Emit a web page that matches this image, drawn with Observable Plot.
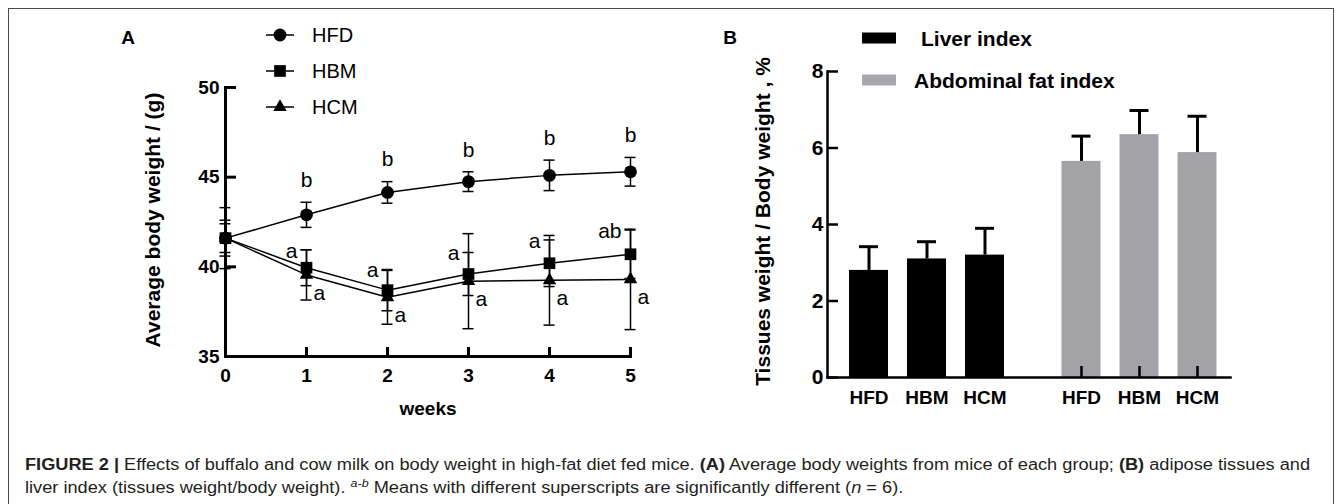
<!DOCTYPE html>
<html><head><meta charset="utf-8">
<script src="https://cdn.jsdelivr.net/npm/d3@7"></script>
<script src="https://cdn.jsdelivr.net/npm/@observablehq/plot@0.6"></script>
<style>
html,body{margin:0;padding:0;background:#fff;}
body{width:1344px;height:504px;overflow:hidden;position:relative;font-family:Arial,"Liberation Sans",Helvetica,sans-serif;}
#border{position:absolute;left:8px;top:8px;width:1326px;height:560px;border:1.5px solid #4a4a4a;box-sizing:border-box;}
#A,#B{position:absolute;top:0;}
#A{left:0px;}
#B{left:680px;}
#overlay{position:absolute;left:0;top:0;}
#cap{position:absolute;left:25px;top:453px;font-size:16px;line-height:23px;color:#231f20;white-space:nowrap;transform-origin:0 0;font-family:"Liberation Sans Narrow","Arial Narrow","Liberation Sans",Arial,sans-serif;}
#cap sup{font-size:11px;line-height:0;}
</style></head>
<body>
<div id="border"></div>
<div id="A"></div>
<div id="B"></div>
<svg id="overlay" width="1344" height="504"></svg>
<div id="cap"><span id="line1"><b>FIGURE 2 |</b> Effects of buffalo and cow milk on body weight in high-fat diet fed mice. <b>(A)</b> Average body weights from mice of each group; <b>(B)</b> adipose tissues and</span><br>liver index (tissues weight/body weight). <sup><i>a-b</i></sup> Means with different superscripts are significantly different (<i>n</i> = 6).</div>
<script>
// ---------- Panel A data ----------
const weeks = [0, 1, 2, 3, 4, 5];
const groups = ["HFD", "HBM", "HCM"];
const hfdMean = [41.6, 42.9, 44.15, 44.75, 45.1, 45.3];
const hfdSD   = [1.0, 0.7, 0.6, 0.55, 0.85, 0.8];
const hbmMean = [41.6, 39.95, 38.7, 39.6, 40.2, 40.7];
const hbmSD   = [0.8, 1.0, 1.15, 1.2, 1.3, 1.35];
const hcmMean = [41.6, 39.55, 38.3, 39.2, 39.25, 39.3];
const hcmSD   = [1.7, 1.4, 1.5, 2.65, 2.5, 2.8];
const hfdLetters = ["", "b", "b", "b", "b", "b"];
const hbmLetters = ["", "a", "a", "a", "a", "ab"];
const hcmLetters = ["", "a", "a", "a", "a", "a"];
const yTicksA = [35, 40, 45, 50];
const xTicksA = [0, 1, 2, 3, 4, 5];
const xLabelA = "weeks";
const yLabelA = "Average body weight / (g)";

// ---------- Panel B data ----------
const tissues = ["Liver index", "Abdominal fat index"];
const liverMean = [2.8, 3.1, 3.2];
const liverSD   = [0.62, 0.45, 0.7];
const fatMean   = [5.65, 6.35, 5.88];
const fatSD     = [0.66, 0.63, 0.95];
const yTicksB = [0, 2, 4, 6, 8];
const yLabelB = "Tissues weight / Body weight , %";

const FONT = "Arial, 'Liberation Sans', Helvetica, sans-serif";
const GRAY = "#a3a3a7";

// ---------- Panel A ----------
const seriesA = [
  {name: "HFD", mean: hfdMean, sd: hfdSD, letters: hfdLetters, symbol: "circle", r: 6.4},
  {name: "HBM", mean: hbmMean, sd: hbmSD, letters: hbmLetters, symbol: "square", r: 6.6},
  {name: "HCM", mean: hcmMean, sd: hcmSD, letters: hcmLetters, symbol: "triangle", r: 5.0}
];
const rowsA = seriesA.flatMap(s => weeks.map((w, i) => ({group: s.name, week: w, mean: s.mean[i], sd: s.sd[i], letter: s.letters[i]})));
const byGroup = g => rowsA.filter(d => d.group === g);
const withLetter = g => rowsA.filter(d => d.group === g && d.letter);

const plotA = Plot.plot({
  width: 680, height: 430,
  marginLeft: 225, marginRight: 50, marginTop: 87, marginBottom: 74,
  x: {domain: [0, 5]},
  y: {domain: [35, 50]},
  style: {fontFamily: FONT, fontSize: "19px", color: "#000", background: "transparent"},
  marks: [
    Plot.ruleX(rowsA, {x: "week", y1: d => d.mean - d.sd, y2: d => d.mean + d.sd, strokeWidth: 1.5}),
    Plot.ruleY(rowsA, {x1: "week", x2: "week", y: d => d.mean + d.sd, insetLeft: -5.5, insetRight: -5.5, strokeWidth: 1.5}),
    Plot.ruleY(rowsA, {x1: "week", x2: "week", y: d => d.mean - d.sd, insetLeft: -5.5, insetRight: -5.5, strokeWidth: 1.5}),
    Plot.line(rowsA, {x: "week", y: "mean", z: "group", stroke: "#000", strokeWidth: 1.5}),
    ...["HFD", "HCM", "HBM"].map(g => {
      const s = seriesA.find(s => s.name === g);
      return Plot.dot(byGroup(g), {x: "week", y: "mean", symbol: () => s.symbol, r: s.r, fill: "#000", stroke: "none"});
    }),
    Plot.text(withLetter("HFD"), {x: "week", y: d => d.mean + d.sd, text: "letter", dy: -22, fontSize: 21, fontWeight: "normal"}),
    Plot.text(withLetter("HBM"), {x: "week", y: d => d.mean + d.sd, text: "letter", textAnchor: "end", dx: -9, dy: 1, fontSize: 21, fontWeight: "normal"}),
    Plot.text(withLetter("HCM"), {x: "week", y: "mean", text: "letter", textAnchor: "start", dx: 7, dy: 18, fontSize: 21, fontWeight: "normal"}),
    Plot.frame({anchor: "left", strokeWidth: 3}),
    Plot.frame({anchor: "bottom", strokeWidth: 3}),
    Plot.axisY(yTicksA, {tickSize: -11, tickPadding: 17, strokeWidth: 3, label: null, fontWeight: "bold", fontSize: 19}),
    Plot.axisX(xTicksA, {tickSize: -9, tickPadding: 21, strokeWidth: 3, label: null, fontWeight: "bold", fontSize: 19}),
    Plot.text([xLabelA], {frameAnchor: "bottom", dy: 52, lineAnchor: "middle", fontWeight: "bold", fontSize: 19}),
    Plot.text([yLabelA], {frameAnchor: "left", textAnchor: "middle", rotate: -90, dx: -72, dy: -2, lineAnchor: "middle", fontWeight: "bold", fontSize: 21})
  ]
});
document.getElementById("A").append(plotA);

// ---------- Panel B ----------
const keyOf = (t, g) => t + "|" + g;
const liverKeys = groups.map(g => keyOf(tissues[0], g));
const fatKeys = groups.map(g => keyOf(tissues[1], g));
const liverRows = groups.map((g, i) => ({tissue: tissues[0], group: g, key: liverKeys[i], mean: liverMean[i], sd: liverSD[i]}));
const fatRows = groups.map((g, i) => ({tissue: tissues[1], group: g, key: fatKeys[i], mean: fatMean[i], sd: fatSD[i]}));
const shift = -19.5; // narrower gap between the two groups than a full band step
const tickFmt = k => k.split("|")[1];

function barSet(rows, fill, dx) {
  return [
    Plot.barY(rows, {x: "key", y: "mean", fill, dx}),
    Plot.ruleX(rows, {x: "key", y1: "mean", y2: d => d.mean + d.sd, strokeWidth: 3, stroke: "#000", dx}),
    Plot.tickY(rows, {x: "key", y: d => d.mean + d.sd, insetLeft: 10, insetRight: 10, strokeWidth: 3, stroke: "#000", dx})
  ];
}

const plotB = Plot.plot({
  width: 664, height: 430,
  marginLeft: 147, marginRight: 114, marginTop: 71, marginBottom: 53,
  x: {type: "band", domain: [...liverKeys, "gap", ...fatKeys], range: [147.5, 576.5], paddingInner: 1/3, paddingOuter: 1/3},
  y: {domain: [0, 8]},
  style: {fontFamily: FONT, fontSize: "19px", color: "#000", background: "transparent"},
  marks: [
    ...barSet(liverRows, "#000", 0),
    ...barSet(fatRows, GRAY, shift),
    Plot.frame({anchor: "left", strokeWidth: 2.5}),
    Plot.frame({anchor: "bottom", strokeWidth: 2.5}),
    Plot.axisY(yTicksB, {tickSize: -11, tickPadding: 15, strokeWidth: 2.5, label: null, fontWeight: "bold", fontSize: 21}),
    Plot.axisX(liverKeys, {tickSize: -11, tickPadding: 24, strokeWidth: 2.5, label: null, tickFormat: tickFmt, fontWeight: "bold", fontSize: 19}),
    Plot.axisX(fatKeys, {tickSize: -11, tickPadding: 24, strokeWidth: 2.5, label: null, tickFormat: tickFmt, fontWeight: "bold", fontSize: 19, dx: shift}),
    Plot.text([yLabelB], {frameAnchor: "left", textAnchor: "middle", rotate: -90, dx: -64, dy: -3, lineAnchor: "middle", fontWeight: "bold", fontSize: 21})
  ]
});
document.getElementById("B").append(plotB);

// ---------- Panel labels & legends ----------
const ov = d3.select("#overlay").style("font-family", FONT);
ov.append("text").attr("x", 128).attr("y", 37).attr("text-anchor", "middle").attr("dominant-baseline", "central")
  .attr("font-weight", "bold").attr("font-size", 19).text("A");
ov.append("text").attr("x", 730).attr("y", 37).attr("text-anchor", "middle").attr("dominant-baseline", "central")
  .attr("font-weight", "bold").attr("font-size", 19).text("B");

const symType = {circle: d3.symbolCircle, square: d3.symbolSquare, triangle: d3.symbolTriangle};
seriesA.forEach((s, i) => {
  const y = 35 + i * 36;
  const g = ov.append("g");
  g.append("line").attr("x1", 266).attr("x2", 294).attr("y1", y).attr("y2", y).attr("stroke", "#000").attr("stroke-width", 1.5);
  g.append("path").attr("transform", `translate(280,${y})`).attr("d", d3.symbol(symType[s.symbol], Math.PI * s.r * s.r)()).attr("fill", "#000");
  g.append("text").attr("x", 312).attr("y", y).attr("dominant-baseline", "central").attr("font-size", 20).text(s.name);
});

const legB = [{name: tissues[0], fill: "#000", x: 921}, {name: tissues[1], fill: "#a8a8ac", x: 914}];
legB.forEach((l, i) => {
  const y = 38 + i * 42;
  ov.append("rect").attr("x", 862).attr("y", y - 5.5).attr("width", 34).attr("height", 11).attr("fill", l.fill);
  ov.append("text").attr("x", l.x).attr("y", y).attr("dominant-baseline", "central").attr("font-weight", "bold").attr("font-size", 21).text(l.name);
});

// fit caption to its column width
const cap = document.getElementById("cap");
const w = document.getElementById("line1").getBoundingClientRect().width;
const target = 1285;
if (w > 0) cap.style.transform = `scaleX(${target / w})`;
</script>
</body></html>
